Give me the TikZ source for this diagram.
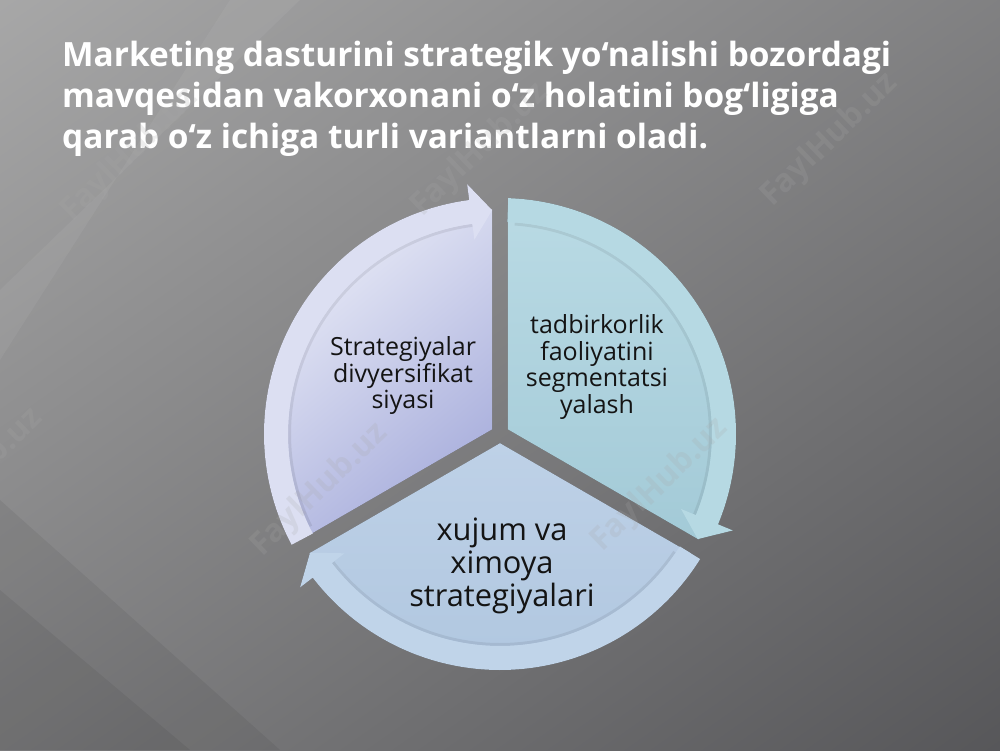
\documentclass[tikz,border=0pt]{standalone}
\usepackage{fontspec}
\setmainfont{Open Sans}
\usetikzlibrary{calc}
\definecolor{bgLight}{HTML}{B0B0B0}
\definecolor{bgMid}{HTML}{6C6C70}
\definecolor{bgDark}{HTML}{4E4E51}
\definecolor{pieLtop}{HTML}{ECEEF8}
\definecolor{pieLbot}{HTML}{A8AEDC}
\definecolor{bandL}{HTML}{DCDFF2}
\definecolor{pieRtop}{HTML}{B9DAE4}
\definecolor{pieRbot}{HTML}{A3CAD7}
\definecolor{bandR}{HTML}{B6D9E3}
\definecolor{pieBtop}{HTML}{BED1E7}
\definecolor{pieBbot}{HTML}{AFC6DF}
\definecolor{bandB}{HTML}{C0D4E9}
\definecolor{txt}{HTML}{141414}
\definecolor{wm}{HTML}{A8A8A8}
\tikzset{
  lbl/.style={align=center, inner sep=0pt, text=txt, font=\fontsize{25}{26.5}\selectfont},
  titletext/.style={align=left, inner sep=0pt, text=white, font=\bfseries\fontsize{33.4}{41}\selectfont},
  wmark/.style={text=wm, opacity=0.2, font=\bfseries\fontsize{32}{32}\selectfont, rotate=44},
  shadowfill/.style={fill=black, opacity=0.3},
}
\begin{document}
\begin{tikzpicture}[x=1pt,y=1pt]
\useasboundingbox (0,0) rectangle (1000,750);
% background
\begin{scope}
\clip (0,0) rectangle (1000,750);
\shade[shading=axis, top color=bgLight, middle color=bgMid, bottom color=bgDark, shading angle=35] (-300,-300) rectangle (1300,1050);
\fill[white, opacity=0.05] (0,390) -- (0,460) -- (300,750) -- (230,750) -- cycle;
\fill[black, opacity=0.06] (0,0) -- (0,250) -- (280,0) -- cycle;
\fill[black, opacity=0.06] (0,0) -- (0,160) -- (190,0) -- cycle;
\end{scope}
% centre
\coordinate (O) at (500,316);
\coordinate (AL) at ($(O)+(150:9.2)$);
\coordinate (AR) at ($(O)+(30:9.2)$);
\coordinate (AB) at ($(O)+(270:9.2)$);
% shadows
\begin{scope}[shift={(3,-4)}]
\fill[shadowfill] (AL) -- ++(210:220) arc[start angle=210, end angle=90, radius=220] -- cycle;
\fill[shadowfill] (AR) -- ++(90:220) arc[start angle=90, end angle=-30, radius=220] -- cycle;
\fill[shadowfill] (AB) -- ++(330:220) arc[start angle=330, end angle=210, radius=220] -- cycle;
\fill[shadowfill] ($(O)+(208:236)$) arc[start angle=208, end angle=97.5, radius=236] -- ($(O)+(97.5:252)$) -- ($(O)+(92:224)$) -- ($(O)+(97.5:196)$) -- ($(O)+(97.5:212)$) arc[start angle=97.5, end angle=208, radius=212] -- cycle;
\fill[shadowfill] ($(O)+(88:236)$) arc[start angle=88, end angle=-22.5, radius=236] -- ($(O)+(-22.5:252)$) -- ($(O)+(-28:224)$) -- ($(O)+(-22.5:196)$) -- ($(O)+(-22.5:212)$) arc[start angle=-22.5, end angle=88, radius=212] -- cycle;
\fill[shadowfill] ($(O)+(328:236)$) arc[start angle=328, end angle=217.5, radius=236] -- ($(O)+(217.5:252)$) -- ($(O)+(212:224)$) -- ($(O)+(217.5:196)$) -- ($(O)+(217.5:212)$) arc[start angle=217.5, end angle=328, radius=212] -- cycle;
\end{scope}
% left sector
\shade[top color=pieLtop, bottom color=pieLbot, shading angle=40] (AL) -- ++(210:220) arc[start angle=210, end angle=90, radius=220] -- cycle;
\draw[black, opacity=0.08, line width=3] ($(O)+(206:210.5)$) arc[start angle=206, end angle=97.5, radius=210.5];
\fill[bandL] ($(O)+(208:236)$) arc[start angle=208, end angle=97.5, radius=236] -- ($(O)+(97.5:252)$) -- ($(O)+(92:224)$) -- ($(O)+(97.5:196)$) -- ($(O)+(97.5:212)$) arc[start angle=97.5, end angle=208, radius=212] -- cycle;
% right sector
\shade[top color=pieRtop, bottom color=pieRbot] (AR) -- ++(90:220) arc[start angle=90, end angle=-30, radius=220] -- cycle;
\draw[black, opacity=0.07, line width=3] ($(O)+(86:210.5)$) arc[start angle=86, end angle=-22.5, radius=210.5];
\fill[bandR] ($(O)+(88:236)$) arc[start angle=88, end angle=-22.5, radius=236] -- ($(O)+(-22.5:252)$) -- ($(O)+(-28:224)$) -- ($(O)+(-22.5:196)$) -- ($(O)+(-22.5:212)$) arc[start angle=-22.5, end angle=88, radius=212] -- cycle;
% bottom sector
\shade[top color=pieBtop, bottom color=pieBbot] (AB) -- ++(330:220) arc[start angle=330, end angle=210, radius=220] -- cycle;
\draw[black, opacity=0.07, line width=3] ($(O)+(326:210.5)$) arc[start angle=326, end angle=217.5, radius=210.5];
\fill[bandB] ($(O)+(328:236)$) arc[start angle=328, end angle=217.5, radius=236] -- ($(O)+(217.5:252)$) -- ($(O)+(212:224)$) -- ($(O)+(217.5:196)$) -- ($(O)+(217.5:212)$) arc[start angle=217.5, end angle=328, radius=212] -- cycle;
% labels
\node[lbl] (tL) at (403,374) {Strategiyalar\\divyersifikat\\siyasi};
\node[lbl] (tR) at (597,383) {tadbirkorlik\\faoliyatini\\segmentatsi\\yalash};
\node[lbl, font=\fontsize{30.8}{33}\selectfont] (tB) at (502,184) {xujum va\\ximoya\\strategiyalari};
% title
\node[titletext, anchor=north west] (title) at (62,709) {Marketing dasturini strategik yo‘nalishi bozordagi\\mavqesidan vakorxonani o‘z holatini bog‘ligiga\\qarab o‘z ichiga turli variantlarni oladi.};
% watermarks
\node[wmark] (w1) at (130,595) {FaylHub.uz};
\node[wmark] (w2) at (480,600) {FaylHub.uz};
\node[wmark] (w3) at (830,610) {FaylHub.uz};
\node[wmark] (w4) at (-25,275) {FaylHub.uz};
\node[wmark] (w5) at (320,260) {FaylHub.uz};
\node[wmark] (w6) at (660,265) {FaylHub.uz};
\end{tikzpicture}
\end{document}
